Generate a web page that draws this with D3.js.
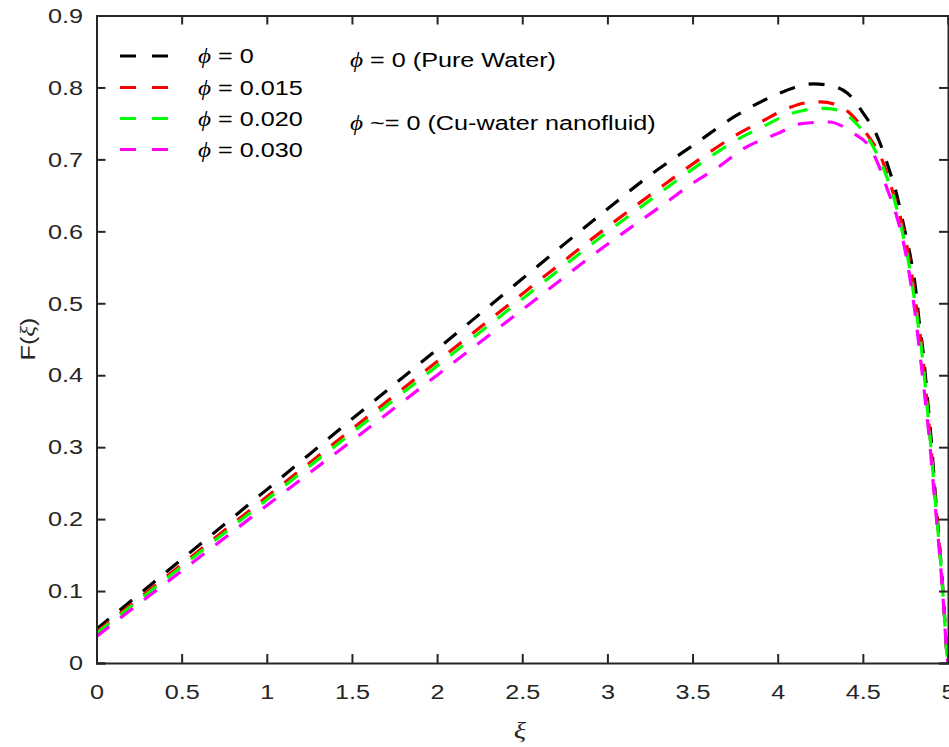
<!DOCTYPE html>
<html>
<head>
<meta charset="utf-8">
<script src="https://cdn.jsdelivr.net/npm/d3@7"></script>
<style>
  html, body { margin: 0; padding: 0; background: #fff; }
  svg { display: block; }
</style>
</head>
<body>
<svg id="chart" width="949" height="747"></svg>
<script>
// ---- data ----
const xiBlack = [0, 0.5, 1, 1.5, 2, 2.5, 3, 3.25, 3.5, 3.75, 4.0, 4.1, 4.21, 4.3, 4.41, 4.5, 4.59, 4.65, 4.70, 4.74, 4.78, 4.81, 4.83, 4.855, 4.875, 4.905, 4.925, 4.945, 4.963, 4.979, 4.993, 5];
const fBlack  = [0.047, 0.144, 0.241, 0.339, 0.436, 0.534, 0.631, 0.678, 0.719, 0.760, 0.791, 0.800, 0.805, 0.803, 0.792, 0.765, 0.729, 0.689, 0.650, 0.608, 0.564, 0.520, 0.476, 0.430, 0.379, 0.300, 0.236, 0.180, 0.125, 0.069, 0.014, 0];

const xiRed = [0, 0.5, 1, 1.5, 2, 2.5, 3, 3.3, 3.45, 3.6, 3.75, 3.9, 4.07, 4.15, 4.25, 4.33, 4.405, 4.53, 4.61, 4.67, 4.72, 4.77, 4.80, 4.825, 4.85, 4.87, 4.90, 4.922, 4.943, 4.962, 4.978, 4.993, 5];
const fRed  = [0.043, 0.137, 0.231, 0.325, 0.419, 0.513, 0.606, 0.659, 0.685, 0.710, 0.733, 0.752, 0.772, 0.778, 0.780, 0.777, 0.768, 0.733, 0.701, 0.659, 0.620, 0.565, 0.520, 0.476, 0.430, 0.379, 0.300, 0.236, 0.180, 0.125, 0.069, 0.014, 0];

const xiGreen = [0, 0.5, 1, 1.5, 2, 2.5, 3, 3.3, 3.45, 3.6, 3.75, 3.9, 4.07, 4.15, 4.28, 4.36, 4.44, 4.55, 4.63, 4.68, 4.73, 4.77, 4.80, 4.825, 4.85, 4.87, 4.90, 4.922, 4.943, 4.962, 4.978, 4.993, 5];
const fGreen  = [0.041, 0.134, 0.227, 0.320, 0.413, 0.506, 0.599, 0.652, 0.678, 0.703, 0.726, 0.744, 0.763, 0.768, 0.771, 0.768, 0.755, 0.722, 0.682, 0.648, 0.601, 0.555, 0.510, 0.470, 0.425, 0.377, 0.298, 0.235, 0.179, 0.124, 0.068, 0.014, 0];

const xiMagenta = [0, 0.5, 1, 1.5, 2, 2.5, 3, 3.35, 3.495, 3.65, 3.8, 4.0, 4.14, 4.3, 4.44, 4.54, 4.58, 4.64, 4.70, 4.74, 4.78, 4.81, 4.835, 4.86, 4.895, 4.918, 4.94, 4.96, 4.977, 4.993, 5];
const fMagenta  = [0.037, 0.128, 0.219, 0.309, 0.400, 0.491, 0.582, 0.641, 0.666, 0.689, 0.715, 0.736, 0.7496, 0.752, 0.737, 0.717, 0.699, 0.661, 0.620, 0.583, 0.530, 0.480, 0.430, 0.379, 0.300, 0.236, 0.180, 0.125, 0.069, 0.014, 0];

const seriesLabels = ["0", "0.015", "0.020", "0.030"];
const seriesColors = ["#000000", "#ff0000", "#00ff00", "#ff00ff"];

const xTicks = [0, 0.5, 1, 1.5, 2, 2.5, 3, 3.5, 4, 4.5, 5];
const yTicks = [0, 0.1, 0.2, 0.3, 0.4, 0.5, 0.6, 0.7, 0.8, 0.9];

const annotations = ["= 0 (Pure Water)", "~= 0 (Cu-water nanofluid)"];

// ---- layout ----
const L = 96.5, R = 948, T = 15.5, B = 663;
const axisColor = "#262626";
const sansFont = "'Liberation Sans', Arial, Helvetica, sans-serif";
const serifFont = "'Liberation Serif', 'DejaVu Serif', 'Times New Roman', serif";
const PHI = "\u03D5";
const FS = "21px";
const SX = 1.2; // horizontal stretch of the reference's text

const svg = d3.select("#chart");
const x = d3.scaleLinear().domain([0, 5]).range([L, R]);
const y = d3.scaleLinear().domain([0, 0.9]).range([B, T]);

// clip
svg.append("defs").append("clipPath").attr("id", "clip")
  .append("rect").attr("x", L).attr("y", T - 2).attr("width", R - L + 2).attr("height", B - T + 4);

// curves
const series = [
  { xs: xiBlack, ys: fBlack },
  { xs: xiRed, ys: fRed },
  { xs: xiGreen, ys: fGreen },
  { xs: xiMagenta, ys: fMagenta }
];
const line = d3.line().x(d => x(d[0])).y(d => y(d[1])).curve(d3.curveMonotoneX);
const gCurves = svg.append("g").attr("clip-path", "url(#clip)");
series.forEach((s, i) => {
  const pts = s.xs.map((v, j) => [v, s.ys[j]]);
  gCurves.append("path")
    .attr("d", line(pts))
    .attr("fill", "none")
    .attr("stroke", seriesColors[i])
    .attr("stroke-width", 3.2)
    .attr("stroke-dasharray", "16,14");
});

// axes (box style, ticks inward)
const tickLen = 9;
const gx = svg.append("g").attr("transform", `translate(0,${B})`)
  .call(d3.axisBottom(x).tickValues(xTicks).tickSize(-tickLen).tickPadding(21)
    .tickFormat(d => d3.format("")(d)));
const gxTop = svg.append("g").attr("transform", `translate(0,${T})`)
  .call(d3.axisTop(x).tickValues(xTicks).tickSize(-tickLen).tickFormat(""));
const gy = svg.append("g").attr("transform", `translate(${L},0)`)
  .call(d3.axisLeft(y).tickValues(yTicks).tickSize(-tickLen).tickPadding(11.3)
    .tickFormat(d => d3.format("")(+d.toFixed(1))));
const gyRight = svg.append("g").attr("transform", `translate(${R},0)`)
  .call(d3.axisRight(y).tickValues(yTicks).tickSize(-tickLen).tickFormat(""));

[gx, gxTop, gy, gyRight].forEach(g => {
  g.select(".domain").attr("stroke", axisColor).attr("stroke-width", 2);
  g.selectAll(".tick line").attr("stroke", axisColor).attr("stroke-width", 2);
  g.selectAll(".tick text").attr("fill", axisColor)
    .style("font-family", sansFont).style("font-size", FS)
    .attr("transform", `scale(${SX},1)`);
});
gx.selectAll(".tick text").attr("dy", "0.71em");

// helper: stretched text
function stretchedText(px, py, rot) {
  const g = svg.append("g")
    .attr("transform", `translate(${px},${py})` + (rot ? ` rotate(${rot})` : "") + ` scale(${SX},1)`);
  return g.append("text").attr("x", 0).attr("y", 0)
    .style("font-family", sansFont).style("font-size", FS);
}

// axis labels
stretchedText(520, 738).attr("text-anchor", "middle")
  .style("font-family", serifFont).style("font-style", "italic").style("font-size", "24px")
  .attr("fill", axisColor)
  .text("\u03BE");

const yl = stretchedText(35, 339, -90).attr("text-anchor", "middle").attr("fill", axisColor);
yl.append("tspan").text("F(");
yl.append("tspan").style("font-family", serifFont).style("font-style", "italic").text("\u03BE");
yl.append("tspan").text(")");

// legend
const legRowY = [56, 87.5, 118.5, 149.5];
const gLeg = svg.append("g");
seriesLabels.forEach((lab, i) => {
  gLeg.append("line")
    .attr("x1", 120).attr("x2", 168)
    .attr("y1", legRowY[i]).attr("y2", legRowY[i])
    .attr("stroke", seriesColors[i]).attr("stroke-width", 3.2)
    .attr("stroke-dasharray", "16,16");
  const t = stretchedText(198, legRowY[i] + 7).attr("fill", "#000");
  t.append("tspan").style("font-family", serifFont).style("font-style", "italic").text(PHI);
  t.append("tspan").text(" = " + lab);
});

// annotations
const annY = [67, 130];
annotations.forEach((a, i) => {
  const t = stretchedText(350, annY[i]).attr("fill", "#000");
  t.append("tspan").style("font-family", serifFont).style("font-style", "italic").text(PHI);
  t.append("tspan").text(" " + a);
});
</script>
</body>
</html>
